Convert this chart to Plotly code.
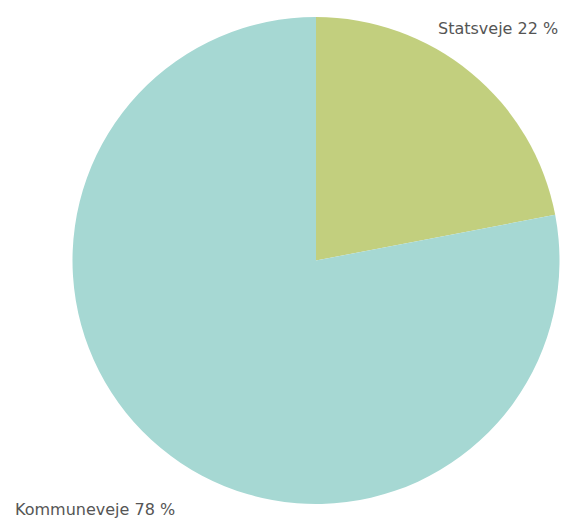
import plotly.graph_objects as go

labels = ["Statsveje", "Kommuneveje"]
values = [22, 78]
colors = ["#c2cf7e", "#a6d8d3"]

W, H = 565, 521
cx, cy, r = 316, 260.5, 243.5

fig = go.Figure(go.Pie(
    labels=labels,
    values=values,
    marker=dict(colors=colors, line=dict(width=0)),
    sort=False,
    direction="clockwise",
    rotation=0,
    textinfo="none",
    hoverinfo="label+percent",
    domain=dict(x=[(cx - r) / W, (cx + r) / W], y=[1 - (cy + r) / H, 1 - (cy - r) / H]),
    showlegend=False,
))

label_pos = [(560, 29, "right", "middle"), (13, 521, "left", "bottom")]
for (x, y, xa, ya), lab, val in zip(label_pos, labels, values):
    fig.add_annotation(
        x=x / W, y=1 - y / H, xref="paper", yref="paper",
        text=f"{lab} {val} %", showarrow=False,
        xanchor=xa, yanchor=ya,
        font=dict(family="DejaVu Sans", size=16, color="#555555"),
    )

fig.update_layout(
    width=W, height=H,
    margin=dict(l=0, r=0, t=0, b=0),
    paper_bgcolor="white",
    plot_bgcolor="white",
)

fig.write_html(
    "out.html",
    config={"displayModeBar": False},
    post_script="document.body.style.margin='0';document.body.style.overflow='hidden';",
)
